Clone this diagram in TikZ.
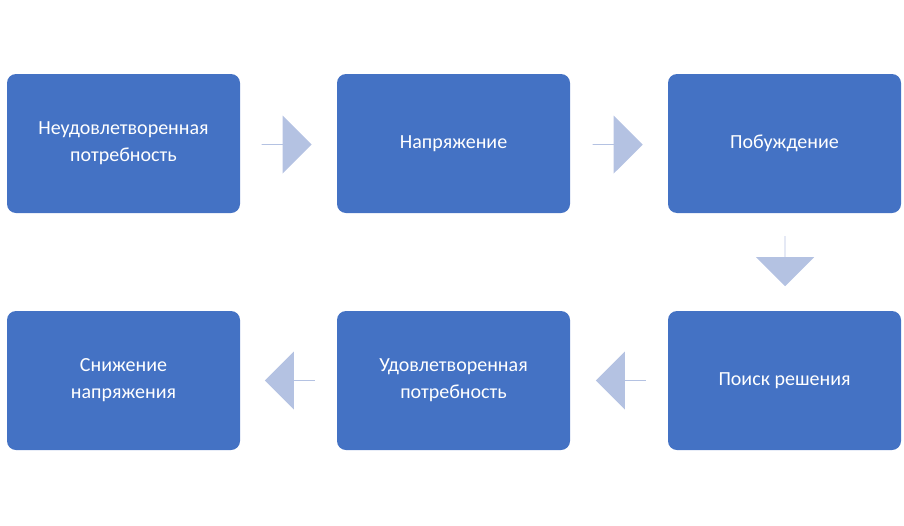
\documentclass[tikz,border=0pt]{standalone}
\usepackage{fontspec}
\setmainfont{Carlito}
\usetikzlibrary{shapes.arrows,positioning}
\definecolor{boxblue}{HTML}{4472C4}
\definecolor{arrowblue}{HTML}{B4C2E2}
\tikzset{
  stagebox/.style={fill=boxblue, rounded corners=9pt, minimum width=233pt,
    minimum height=139pt, text=white, align=center, font=\fontsize{20}{27}\selectfont},
  blockarrow/.style={single arrow, fill=arrowblue, minimum width=58pt,
    minimum height=50pt, single arrow head extend=12pt,
    single arrow tip angle=90, inner sep=0pt}
}
\begin{document}
\begin{tikzpicture}[x=1pt,y=-1pt]
  \useasboundingbox (0,0) rectangle (904,525);
  % top row
  \node[stagebox] (need) at (123.5,143.5) {Неудовлетворенная\\потребность};
  \node[stagebox] (tension) at (453.5,143.5) {Напряжение};
  \node[stagebox] (motive) at (784.5,143.5) {Побуждение};
  % bottom row
  \node[stagebox] (search) at (784.5,380.5) {Поиск решения};
  \node[stagebox] (satisfied) at (453.5,380.5) {Удовлетворенная\\потребность};
  \node[stagebox] (relief) at (123.5,380.5) {Снижение\\напряжения};
  % arrows
  \node[blockarrow] (a1) at (286.5,144.5) {};
  \node[blockarrow] (a2) at (617.5,144.5) {};
  \node[blockarrow, shape border rotate=270] (a3) at (785,261) {};
  \node[blockarrow, shape border rotate=180] (a4) at (621,380.5) {};
  \node[blockarrow, shape border rotate=180] (a5) at (290,380.5) {};
\end{tikzpicture}
\end{document}
